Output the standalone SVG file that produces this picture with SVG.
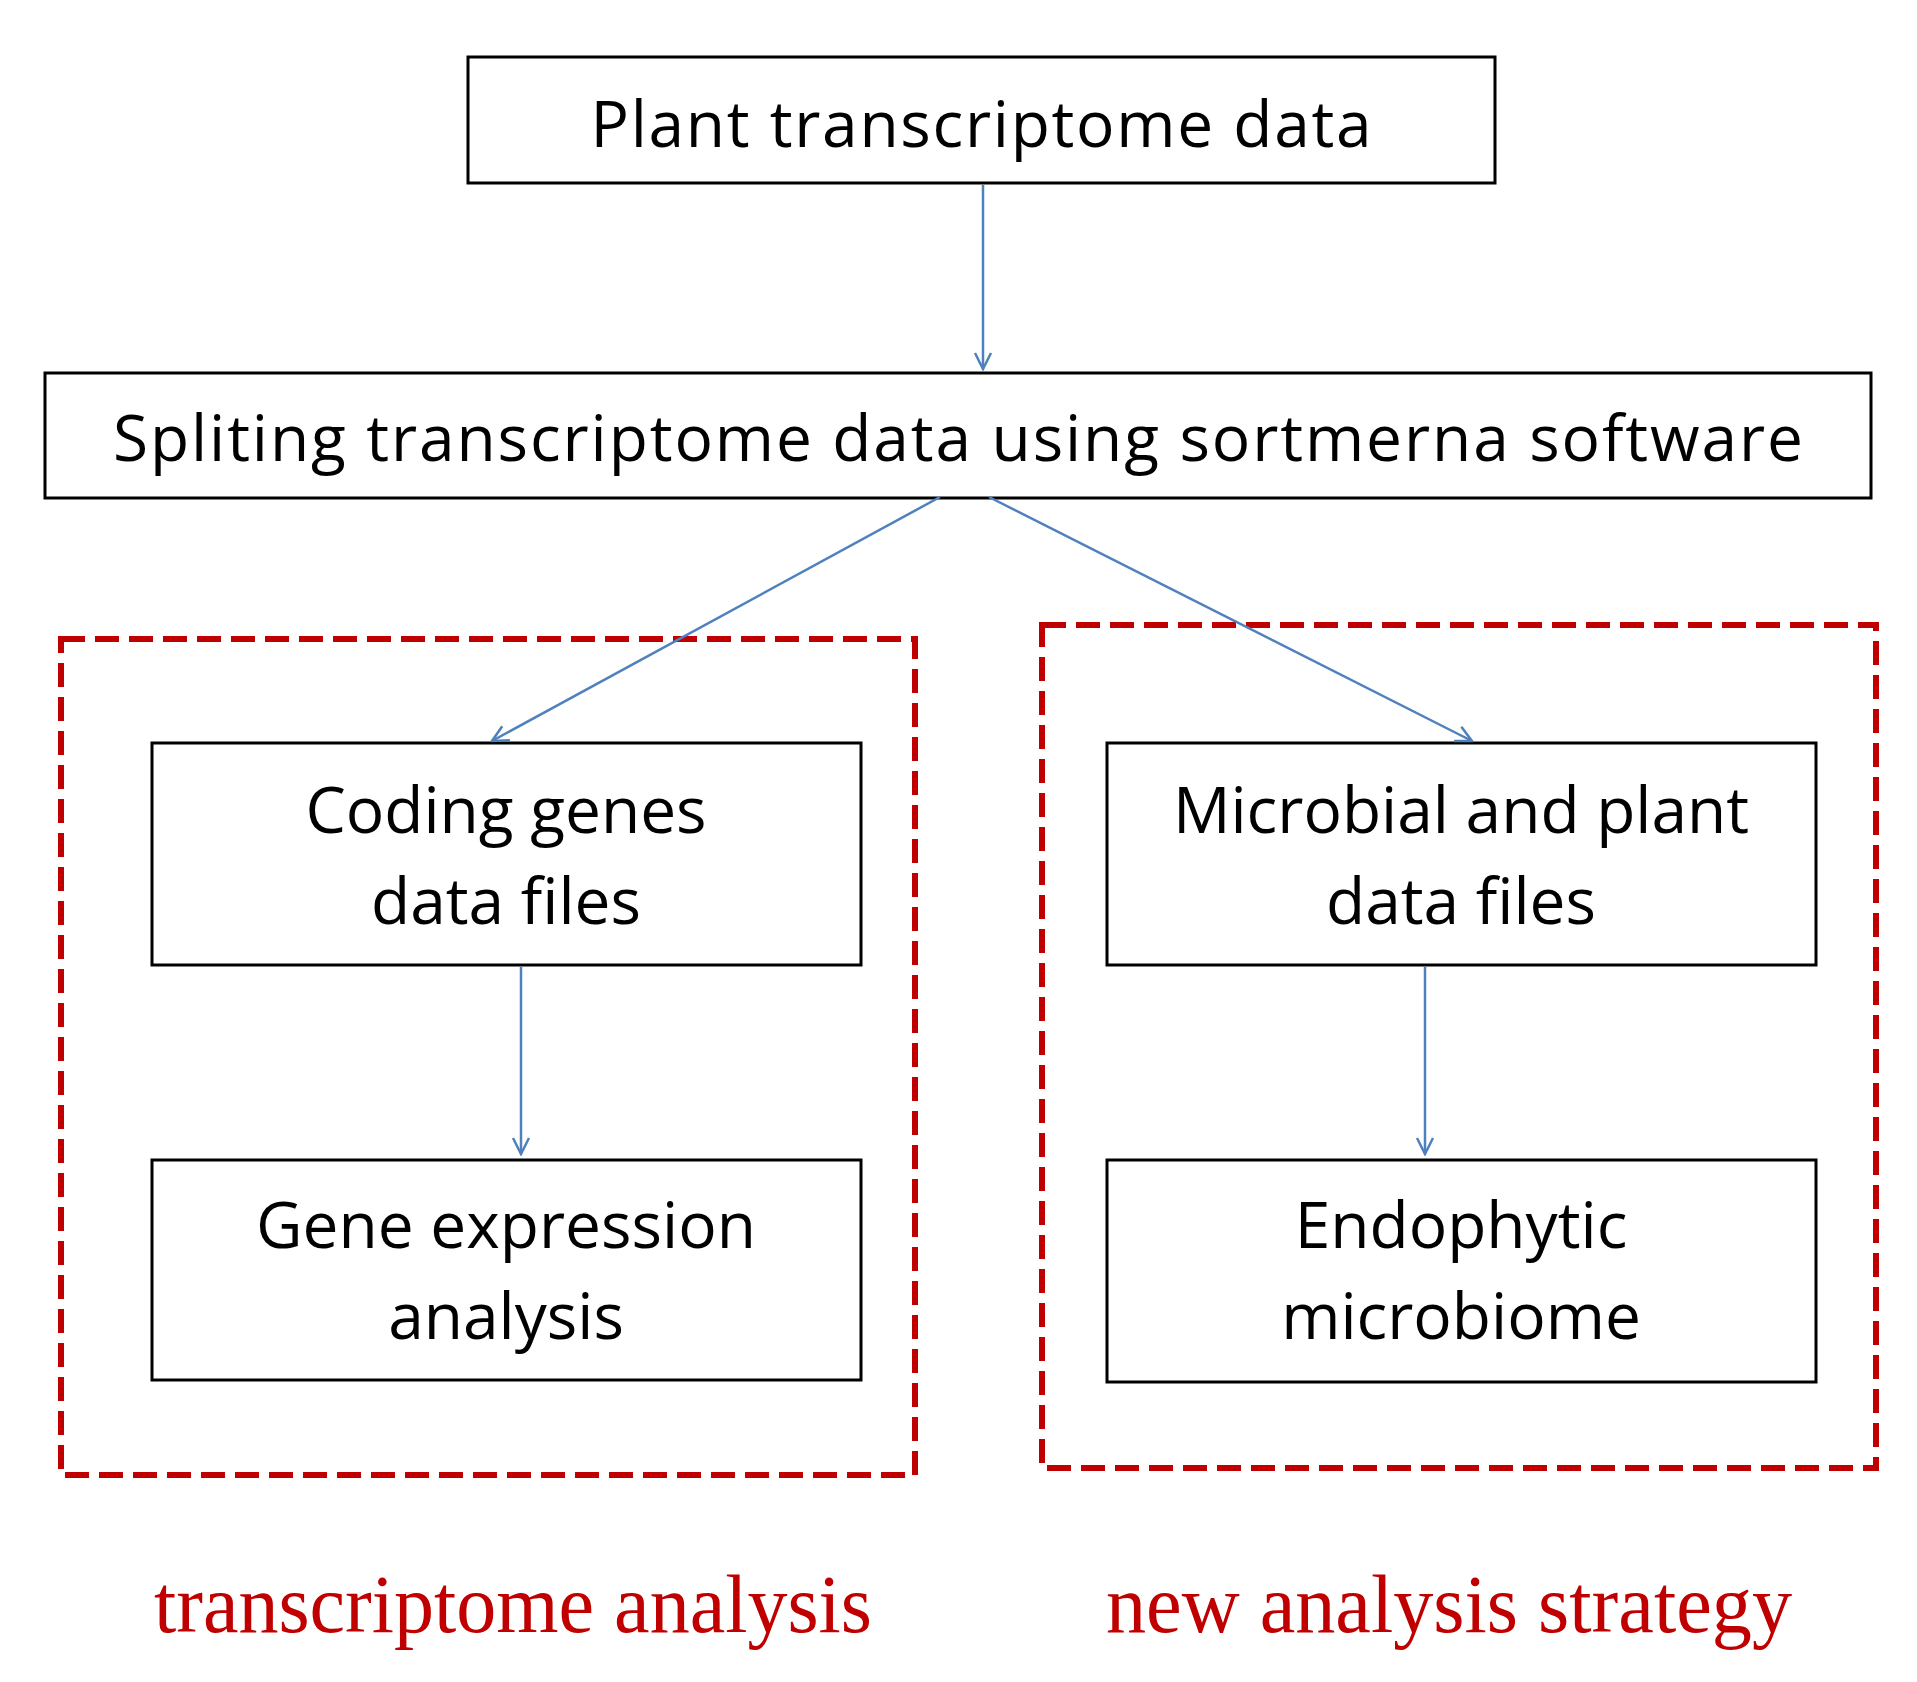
<svg xmlns="http://www.w3.org/2000/svg" width="1917" height="1682" viewBox="0 0 1917 1682">
<defs>
<marker id="ah" viewBox="0 0 20 20" refX="18" refY="10" markerWidth="20" markerHeight="20" markerUnits="userSpaceOnUse" orient="auto">
<path d="M2,2 L18,10 L2,18" fill="none" stroke="#4f81bd" stroke-width="2.5"/>
</marker>
<style>
.box{fill:#fff;stroke:#000;stroke-width:3}
.dash{fill:none;stroke:#c00000;stroke-width:6;stroke-dasharray:24 10}
.t{font-family:"Open Sans","Liberation Sans",sans-serif;font-size:64px;fill:#000;text-anchor:middle}
.r{font-family:"Liberation Serif",serif;font-size:82px;fill:#c00000;text-anchor:middle}
.c{stroke:#4f81bd;stroke-width:2.5;fill:none;marker-end:url(#ah)}
</style>
</defs>
<rect width="1917" height="1682" fill="#fff"/>
<g id="groups">
<rect class="dash" x="61" y="639" width="854" height="836"/>
<rect class="dash" x="1042" y="625" width="834" height="843"/>
</g>
<g id="n1"><rect class="box" x="468" y="57" width="1027" height="126"/><text class="t" x="981" y="147" textLength="781">Plant transcriptome data</text></g>
<g id="n2"><rect class="box" x="45" y="373" width="1826" height="125"/><text class="t" x="958" y="461" textLength="1690">Spliting transcriptome data using sortmerna software</text></g>
<g id="n3"><rect class="box" x="152" y="743" width="709" height="222"/><text class="t" x="506" y="833">Coding genes</text><text class="t" x="506" y="924">data files</text></g>
<g id="n4"><rect class="box" x="152" y="1160" width="709" height="220"/><text class="t" x="506" y="1248">Gene expression</text><text class="t" x="506" y="1339">analysis</text></g>
<g id="n5"><rect class="box" x="1107" y="743" width="709" height="222"/><text class="t" x="1461" y="833">Microbial and plant</text><text class="t" x="1461" y="924">data files</text></g>
<g id="n6"><rect class="box" x="1107" y="1160" width="709" height="222"/><text class="t" x="1461" y="1248">Endophytic</text><text class="t" x="1461" y="1339">microbiome</text></g>
<g id="labels">
<text class="r" x="513" y="1632" textLength="718" lengthAdjust="spacingAndGlyphs">transcriptome analysis</text>
<text class="r" x="1449" y="1632" textLength="686" lengthAdjust="spacingAndGlyphs">new analysis strategy</text>
</g>
<g id="connectors">
<line class="c" x1="983" y1="185" x2="983" y2="369"/>
<line class="c" x1="940" y1="497" x2="492" y2="741"/>
<line class="c" x1="989" y1="497" x2="1472" y2="741"/>
<line class="c" x1="521" y1="967" x2="521" y2="1154"/>
<line class="c" x1="1425" y1="967" x2="1425" y2="1154"/>
</g>
</svg>
